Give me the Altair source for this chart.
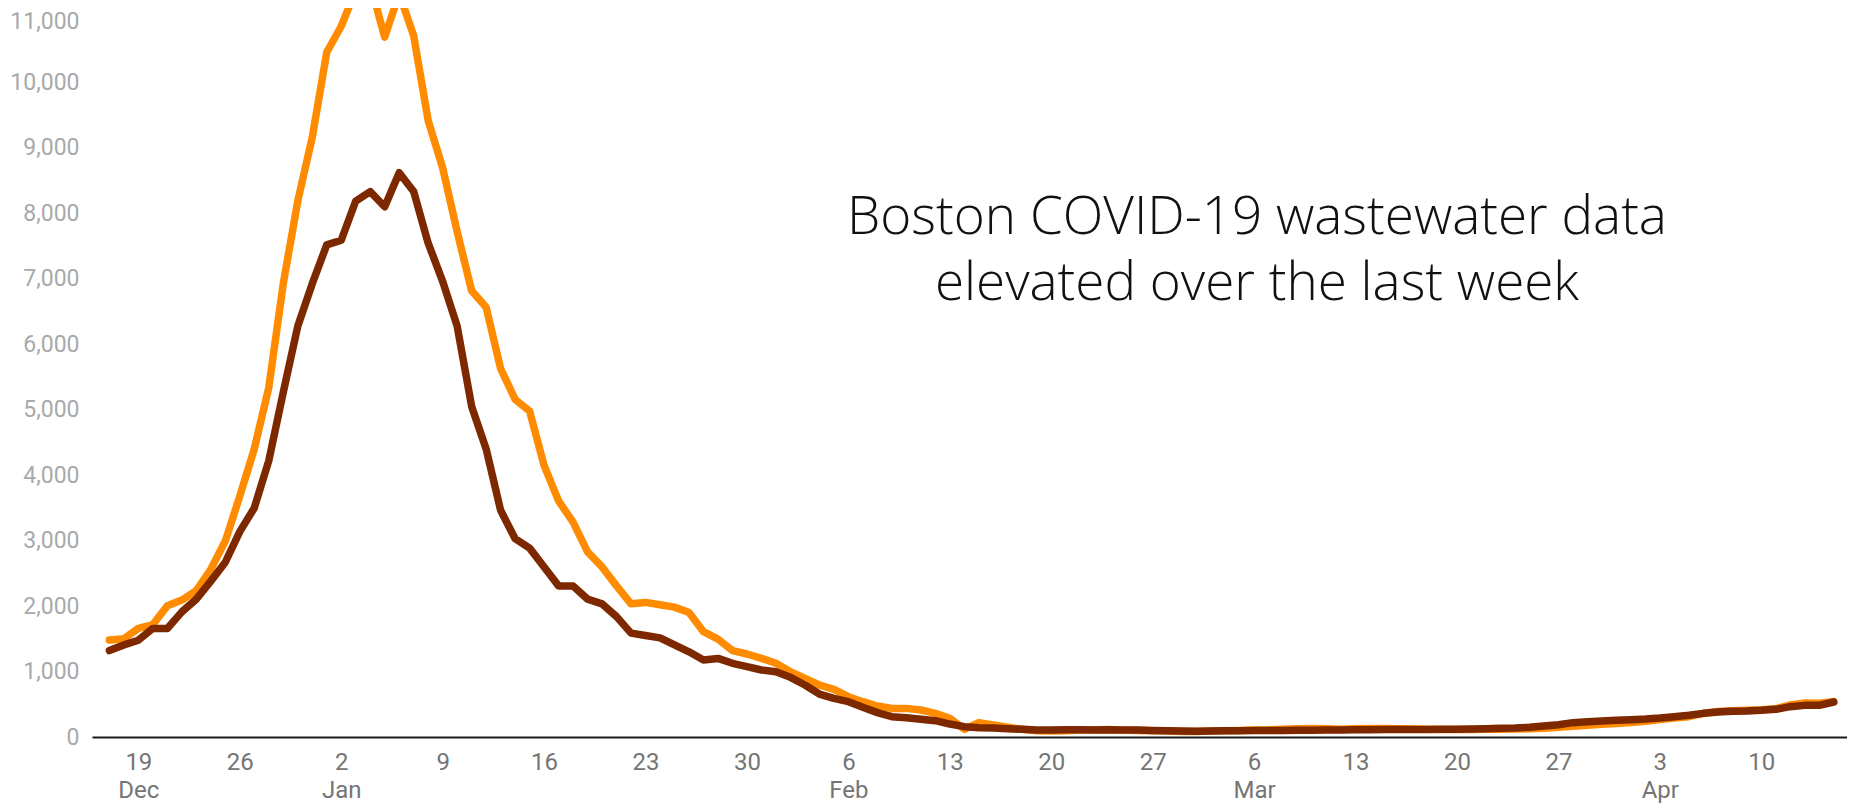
import altair as alt
import pandas as pd

# ---- data ----
start_date = "2021-12-17"
n_days = 120

southern = [  # orange line
    1480, 1500, 1658, 1716, 2004, 2091, 2235, 2560, 2992, 3677, 4398, 5335, 6921, 8183, 9156,
    10454, 10851, 11400, 11500, 10685, 11350, 10707, 9409, 8688, 7715, 6813, 6561, 5624, 5155,
    4975, 4146, 3605, 3280, 2826, 2596, 2307, 2033, 2055, 2019, 1983, 1900, 1608, 1495, 1320,
    1267, 1201,
    1125, 997, 896, 794, 727, 615, 539, 473, 437, 437, 412, 361, 285, 117, 219, 183, 148, 117,
    97, 92, 97, 105, 110, 115, 105, 100, 95, 90,
    85, 85, 90, 95, 100, 105, 110, 120, 125, 130, 125, 120, 125, 130, 128, 125, 122, 118, 115,
    115, 115, 118, 120, 122, 125, 135, 150, 165, 180, 195, 205,
    220, 240, 265, 290, 310, 360, 390, 400, 410, 415, 430, 490, 520, 515, 540,
]

northern = [  # dark brown line
    1320, 1406, 1478, 1658, 1658, 1910, 2105, 2380, 2668, 3136, 3497, 4218, 5263, 6272, 6921,
    7513, 7585, 8183, 8327, 8096, 8616, 8327, 7540, 6957, 6272, 5047, 4398, 3461, 3028, 2884,
    2596, 2307, 2307, 2105, 2033, 1838, 1586, 1550, 1514, 1406, 1300, 1176, 1200, 1125, 1074,
    1023,
    997, 911, 794, 656, 590, 539, 453, 372, 310, 295, 270, 249, 198, 158, 142, 137, 127, 117,
    107, 107, 112, 110, 108, 112, 108, 105, 100, 95,
    90, 88, 92, 95, 97, 98, 100, 100, 102, 104, 106, 108, 110, 112, 113, 114, 115, 116, 117,
    120, 122, 127, 132, 137, 148, 168, 188, 219, 234, 244, 254,
    265, 275, 290, 310, 331, 361, 382, 392, 397, 407, 422, 463, 483, 483, 534,
]

y_ticks = list(range(0, 11001, 1000))
tick_start, tick_end = "2021-12-19", "2022-04-10"
title_lines = ["Boston COVID-19 wastewater data", "elevated over the last week"]

# ---- build table ----
dates = pd.date_range(start_date, periods=n_days, freq="D").strftime("%Y-%m-%d").tolist()
df = pd.DataFrame({"date": dates, "southern": southern, "northern": northern})


def ms(ts):
    return int(pd.Timestamp(ts, tz="UTC").value // 10**6)


x_domain = [ms("2021-12-15 19:12"), ms("2022-04-15 22:00")]
tick_vals = [ms(t) for t in pd.date_range(tick_start, tick_end, freq="7D")]

W, H = 1755, 729

x_enc = alt.X(
    "date:T",
    scale=alt.Scale(type="utc", domain=x_domain, nice=False),
    axis=alt.Axis(
        values=tick_vals,
        labelExpr="(utcdate(datum.value) <= 7 || datum.index == 0) ? "
        "[utcFormat(datum.value, '%-d'), utcFormat(datum.value, '%b')] : utcFormat(datum.value, '%-d')",
        title=None,
        ticks=False,
        grid=False,
        domainColor="#1a1a1a",
        domainWidth=2,
        labelFont="Roboto",
        labelFontSize=24,
        labelColor="#757575",
        labelPadding=13,
        labelLineHeight=28,
        labelAlign="center",
        labelBaseline="top",
        labelOverlap=False,
        labelFlush=False,
    ),
)

y_scale = alt.Scale(domain=[0, 11130], nice=False, zero=True)
y_axis = alt.Axis(
    values=y_ticks,
    format=",d",
    title=None,
    ticks=False,
    grid=False,
    domain=False,
    labelFont="Roboto",
    labelFontSize=23,
    labelColor="#a9a9a9",
    labelPadding=13,
    labelOffset={"condition": {"test": "datum.value >= 11000", "value": 5}, "value": 0},
)

base = alt.Chart(df)

orange = base.mark_line(
    color="#FF8C00", strokeWidth=7.5, clip=True, strokeCap="round", strokeJoin="round"
).encode(x=x_enc, y=alt.Y("southern:Q", scale=y_scale, axis=y_axis))

brown = base.mark_line(
    color="#7E2800", strokeWidth=7.5, clip=True, strokeCap="round", strokeJoin="round"
).encode(x=x_enc, y=alt.Y("northern:Q", scale=y_scale, axis=y_axis))

title = alt.Chart(alt.Data(values=[{}])).mark_text(
    text=title_lines,
    font="Open Sans",
    fontWeight=300,
    fontSize=53,
    lineHeight=66,
    color="#111111",
    align="center",
    baseline="alphabetic",
).encode(x=alt.value(1165), y=alt.value(226))

chart = (
    alt.layer(orange, brown, title)
    .properties(
        width=W,
        height=H,
        autosize=alt.AutoSizeParams(type="none"),
        padding={"left": 84, "top": 0, "right": 0, "bottom": 66},
        background="white",
    )
    .configure_view(stroke=None)
)

chart.save("out.html", embed_options={"renderer": "svg", "actions": False})
